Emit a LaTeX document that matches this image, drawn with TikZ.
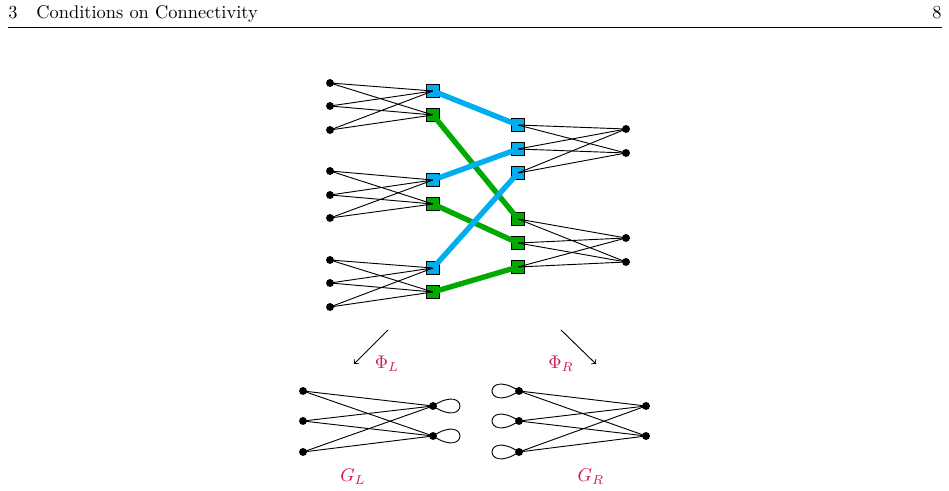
\documentclass[tikz,border=0pt]{standalone}
\usepackage{xcolor}
\definecolor{bcyan}{RGB}{0,174,239}
\definecolor{bgreen}{RGB}{0,170,0}
\definecolor{lblred}{RGB}{205,25,95}
\begin{document}
\begin{tikzpicture}[x=0.5435pt,y=-0.5435pt,
  dot/.style={circle,fill=black,inner sep=0pt,minimum size=4.3pt},
  sqb/.style={rectangle,draw=black,fill=bcyan,line width=0.9pt,minimum size=7pt,inner sep=0pt},
  sqg/.style={rectangle,draw=black,fill=bgreen,line width=0.9pt,minimum size=7pt,inner sep=0pt},
  tedge/.style={draw=black,line width=0.5pt},
  bedge/.style={draw=bcyan,line width=2.9pt},
  gedge/.style={draw=bgreen,line width=2.9pt},
  lbl/.style={text=lblred,inner sep=0pt},
  hdr/.style={inner sep=0pt,anchor=base west},
  maparrow/.style={->,line width=0.5pt}
]
\useasboundingbox (0,0) rectangle (949,491);

% header
\node[hdr] (hnum) at (8,19) {3};
\node[hdr] (htitle) at (36,19) {Conditions on Connectivity};
\node[inner sep=0pt,anchor=base east] (hpage) at (942,19) {8};
\coordinate (rulea) at (8,27);
\coordinate (ruleb) at (942,27);
\draw[line width=0.45pt] (rulea) -- (ruleb);

% left dots
\foreach \i/\y in {1/83,2/106,3/130,4/171,5/195,6/218,7/260,8/283,9/307}
  \node[dot] (L\i) at (330,\y) {};
% left squares
\node[sqb] (A1) at (433,91) {};
\node[sqg] (A2) at (433,115) {};
\node[sqb] (A3) at (433,180) {};
\node[sqg] (A4) at (433,204) {};
\node[sqb] (A5) at (433,268) {};
\node[sqg] (A6) at (433,292) {};
% right squares
\node[sqb] (B1) at (518,125) {};
\node[sqb] (B2) at (518,149) {};
\node[sqb] (B3) at (518,173) {};
\node[sqg] (B4) at (518,219) {};
\node[sqg] (B5) at (518,243) {};
\node[sqg] (B6) at (518,267) {};
% right dots
\foreach \i/\y in {1/129,2/153,3/238,4/262}
  \node[dot] (R\i) at (626,\y) {};

% thin edges left
\foreach \d/\s in {1/1,1/2,2/1,2/2,3/1,3/2,4/3,4/4,5/3,5/4,6/3,6/4,7/5,7/6,8/5,8/6,9/5,9/6}
  \draw[tedge] (L\d.center) -- (A\s.center);
% thin edges right
\foreach \s/\d in {1/1,1/2,2/1,2/2,3/1,3/2,4/3,4/4,5/3,5/4,6/3,6/4}
  \draw[tedge] (B\s.center) -- (R\d.center);

% thick edges
\draw[bedge] (A1.center) -- (B1.center);
\draw[gedge] (A2.center) -- (B4.center);
\draw[bedge] (A3.center) -- (B2.center);
\draw[gedge] (A4.center) -- (B5.center);
\draw[bedge] (A5.center) -- (B3.center);
\draw[gedge] (A6.center) -- (B6.center);

% maps
\coordinate (m1s) at (388,330);
\coordinate (m1e) at (354,364);
\coordinate (m2s) at (561,330);
\coordinate (m2e) at (596,364);
\draw[maparrow] (m1s) -- (m1e);
\draw[maparrow] (m2s) -- (m2e);
\node[lbl] (phiL) at (387,364) {$\Phi_L$};
\node[lbl] (phiR) at (561,364) {$\Phi_R$};

% G_L
\foreach \i/\y in {1/391,2/421,3/452}
  \node[dot] (P\i) at (303,\y) {};
\node[dot] (Q1) at (433,406) {};
\node[dot] (Q2) at (433,436) {};
\foreach \i in {1,2,3}
  \foreach \j in {1,2}
    \draw[tedge] (P\i.center) -- (Q\j.center);
\draw[tedge] (Q1.center) .. controls +(36,-24) and +(36,24) .. (Q1.center);
\draw[tedge] (Q2.center) .. controls +(36,-24) and +(36,24) .. (Q2.center);
\node[lbl] (GL) at (353,477) {$G_L$};

% G_R
\foreach \i/\y in {1/391,2/421,3/452}
  \node[dot] (S\i) at (519,\y) {};
\node[dot] (T1) at (646,406) {};
\node[dot] (T2) at (646,436) {};
\foreach \i in {1,2,3}
  \foreach \j in {1,2}
    \draw[tedge] (S\i.center) -- (T\j.center);
\foreach \i in {1,2,3}
  \draw[tedge] (S\i.center) .. controls +(-36,-24) and +(-36,24) .. (S\i.center);
\node[lbl] (GR) at (591,477) {$G_R$};
\end{tikzpicture}
\end{document}
